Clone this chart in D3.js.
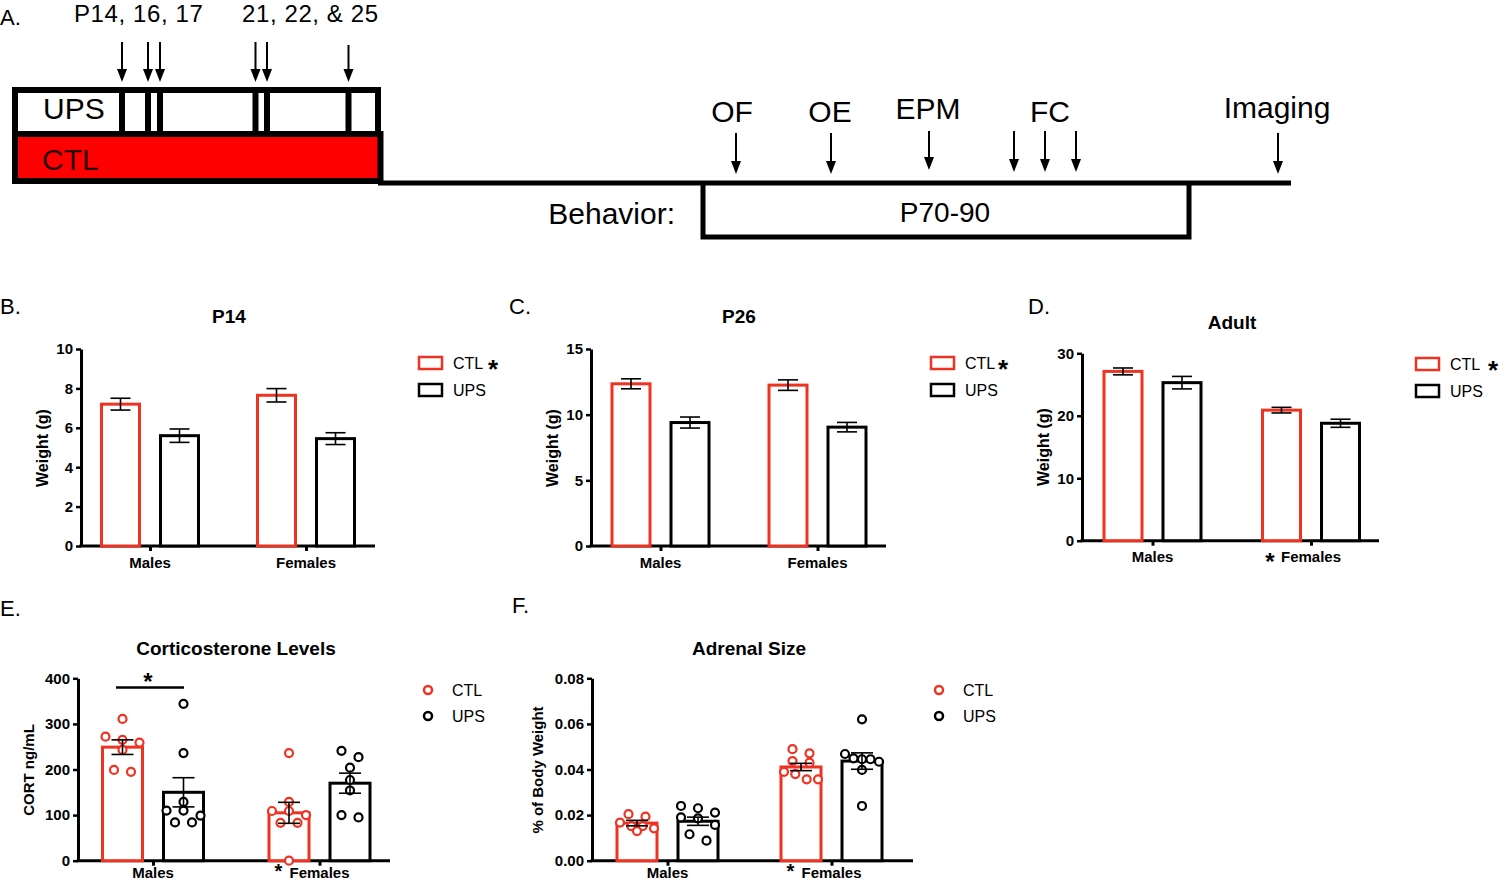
<!DOCTYPE html>
<html><head><meta charset="utf-8">
<script src="https://cdn.jsdelivr.net/npm/d3@7"></script>
<style>
body{margin:0;background:#fff}
svg{display:block}
text{font-family:"Liberation Sans",Arial,Helvetica,sans-serif}
</style>
</head><body>
<svg id="c" width="1500" height="882"></svg>
<script>
// ---------------- DATA ----------------
const groups = ['Males', 'Females'];
const series = ['CTL', 'UPS'];

// Panel A (schematic timeline)
const upsArrowDays = [14, 16, 17, 21, 22, 25];
const upsDayLabels = ['P14, 16, 17', '21, 22, & 25'];
const behaviorTests = ['OF', 'OE', 'EPM', 'FC', 'Imaging'];
const fcSessions = 3;
const behaviorWindow = 'P70-90';

// Panel B: P14 weight (g)
const p14CtlMean = [7.2, 7.65];
const p14CtlSem  = [0.30, 0.34];
const p14UpsMean = [5.6, 5.45];
const p14UpsSem  = [0.34, 0.30];

// Panel C: P26 weight (g)
const p26CtlMean = [12.35, 12.25];
const p26CtlSem  = [0.38, 0.40];
const p26UpsMean = [9.4, 9.05];
const p26UpsSem  = [0.42, 0.36];

// Panel D: Adult weight (g)
const adultCtlMean = [27.1, 20.9];
const adultCtlSem  = [0.55, 0.45];
const adultUpsMean = [25.3, 18.8];
const adultUpsSem  = [1.0, 0.65];

// Panel E: Corticosterone (ng/mL)
const cortCtlMean = [249, 105];
const cortCtlSem  = [16, 23];
const cortUpsMean = [150, 170];
const cortUpsSem  = [32, 22];
const cortCtlMales   = [311, 272, 265, 259, 243, 199, 195];
const cortUpsMales   = [344, 236, 129, 110, 110, 99, 84, 84];
const cortCtlFemales = [236, 129, 109, 109, 100, 83, 83, 0];
const cortUpsFemales = [241, 227, 204, 177, 154, 100, 95];
const cortSigLevel = 380;

// Panel F: Adrenal size (% of body weight)
const adrCtlMean = [0.0165, 0.0411];
const adrCtlSem  = [0.0012, 0.0016];
const adrUpsMean = [0.0173, 0.0437];
const adrUpsSem  = [0.0018, 0.0036];
const adrCtlMales   = [0.0204, 0.0193, 0.0167, 0.0152, 0.0152, 0.0142, 0.0130];
const adrUpsMales   = [0.0240, 0.0230, 0.0211, 0.0190, 0.0186, 0.0157, 0.0116, 0.0088];
const adrCtlFemales = [0.0489, 0.0471, 0.0437, 0.0430, 0.0390, 0.0380, 0.0357, 0.0357];
const adrUpsFemales = [0.0620, 0.0468, 0.0449, 0.0445, 0.0445, 0.0434, 0.0398, 0.0240];

// ---------------- STYLE ----------------
const RED = '#ee3322';
const BOXRED = '#ff0000';
const svg = d3.select('#c');

// ---------------- PANEL A ----------------
const dayX = d3.scaleLinear().domain(upsArrowDays).range([122, 148, 160, 255.5, 267, 348.5]);
const testX = d3.scaleOrdinal().domain(behaviorTests).range([736, 831, 929, 1047, 1278]);
const fcSpread = d3.scalePoint().domain(d3.range(fcSessions)).range([-33, 29]);

function arrow(x, y1, y2) {
  svg.append('line').attr('x1', x).attr('x2', x).attr('y1', y1).attr('y2', y2 - 8)
    .attr('stroke', '#000').attr('stroke-width', 2);
  svg.append('path').attr('d', `M${x - 5},${y2 - 13}L${x + 5},${y2 - 13}L${x},${y2}Z`).attr('fill', '#000');
}

svg.append('text').attr('x', 0).attr('y', 25).attr('font-size', 22).text('A.');
svg.append('text').attr('x', 74).attr('y', 22).attr('font-size', 24).attr('letter-spacing', 0.6).text(upsDayLabels[0]);
svg.append('text').attr('x', 242).attr('y', 22).attr('font-size', 24).attr('letter-spacing', 0.6).text(upsDayLabels[1]);
upsArrowDays.forEach(d => arrow(dayX(d), d === 25 ? 45 : 42, 82));

// UPS box
svg.append('rect').attr('x', 15).attr('y', 90).attr('width', 363).attr('height', 44)
  .attr('fill', '#fff').attr('stroke', '#000').attr('stroke-width', 6);
upsArrowDays.forEach(d => svg.append('rect').attr('x', dayX(d) - 3).attr('y', 90).attr('width', 6).attr('height', 44).attr('fill', '#000'));
// timeline
svg.append('line').attr('x1', 378).attr('x2', 1291).attr('y1', 183).attr('y2', 183).attr('stroke', '#000').attr('stroke-width', 5);
// CTL box
svg.append('rect').attr('x', 15).attr('y', 134).attr('width', 365.5).attr('height', 47)
  .attr('fill', BOXRED).attr('stroke', '#000').attr('stroke-width', 6);
svg.append('text').attr('x', 43).attr('y', 119).attr('font-size', 30).text('UPS');
svg.append('text').attr('x', 42).attr('y', 170).attr('font-size', 30).attr('fill', '#2a0000').text('CTL');

// Behavior box
svg.append('path').attr('d', 'M703,183V237H1189V183').attr('fill', 'none').attr('stroke', '#000').attr('stroke-width', 5);
svg.append('text').attr('x', 675).attr('y', 224).attr('text-anchor', 'end').attr('font-size', 30).text('Behavior:');
svg.append('text').attr('x', 945).attr('y', 222).attr('text-anchor', 'middle').attr('font-size', 28).text(behaviorWindow);

const labelBase = {OF: 122, OE: 122, EPM: 119, FC: 122, Imaging: 118};
const labelShift = {OF: -4, OE: -1, EPM: -1, FC: 3, Imaging: -1};
behaviorTests.forEach(t => {
  svg.append('text').attr('x', testX(t) + labelShift[t]).attr('y', labelBase[t])
    .attr('text-anchor', 'middle').attr('font-size', 30).text(t);
  if (t === 'FC') {
    d3.range(fcSessions).forEach(i => arrow(testX(t) + fcSpread(i), 131, 172));
  } else {
    arrow(testX(t), t === 'EPM' ? 131 : 133, t === 'EPM' ? 170 : 174);
  }
});

// ---------------- BAR PANELS ----------------
function swarm(vals, y) {
  const sorted = vals.slice().sort((a, b) => b - a);
  const rows = []; let cur = null;
  sorted.forEach(v => {
    const py = y(v);
    if (!cur || py - cur.start > 8) { cur = {start: py, items: []}; rows.push(cur); }
    cur.items.push(v);
  });
  const layouts = {1: [0], 2: [-8.5, 8.5], 3: [-17, 0, 17], 4: [-17, -5.7, 5.7, 17], 5: [-17, -8.5, 0, 8.5, 17]};
  const out = [];
  rows.forEach(r => {
    const n = r.items.length;
    const offs = layouts[n] || d3.range(n).map(i => (i - (n - 1) / 2) * (34 / (n - 1)));
    r.items.forEach((v, i) => out.push({v, dx: offs[i]}));
  });
  return out;
}

function star(g, x, yc, size) {
  g.append('text').attr('x', x).attr('y', yc + size * 0.57).attr('text-anchor', 'middle')
    .attr('font-size', size).attr('font-weight', 'bold').text('*');
}

function barPanel(cfg) {
  const g = svg.append('g');
  const y = d3.scaleLinear().domain([0, cfg.yMax]).range([cfg.yBottom, cfg.yTop]);
  const xg = d3.scalePoint().domain(groups).range(cfg.centers);
  const xs = d3.scalePoint().domain(series).range([-cfg.off, cfg.off]);
  const color = {CTL: RED, UPS: '#000'};

  g.append('text').attr('x', cfg.letterX).attr('y', cfg.letterY).attr('font-size', 22).text(cfg.letter);
  g.append('text').attr('x', cfg.titleX).attr('y', cfg.titleY).attr('text-anchor', 'middle')
    .attr('font-size', 19).attr('font-weight', 'bold').text(cfg.title);

  // y axis
  const ya = g.append('g').attr('transform', `translate(${cfg.x0},0)`)
    .call(d3.axisLeft(y).tickValues(cfg.ticks).tickSize(5).tickSizeOuter(0).tickPadding(3).tickFormat(cfg.fmt));
  ya.select('.domain').attr('stroke', '#000').attr('stroke-width', 3);
  ya.selectAll('.tick line').attr('stroke', '#000').attr('stroke-width', 2.5);
  ya.selectAll('.tick text').attr('font-size', 15).attr('font-weight', 'bold')
    .attr('font-family', '"Liberation Sans",Arial,sans-serif').attr('fill', '#000');

  // x axis
  const xa = g.append('g').attr('transform', `translate(0,${cfg.yBottom})`)
    .call(d3.axisBottom(xg).tickSize(5).tickSizeOuter(0).tickFormat(''));
  xa.select('.domain').remove();
  xa.selectAll('.tick line').attr('stroke', '#000').attr('stroke-width', 3);
  g.append('line').attr('x1', cfg.x0 - 1.5).attr('x2', cfg.x1).attr('y1', cfg.yBottom).attr('y2', cfg.yBottom)
    .attr('stroke', '#000').attr('stroke-width', 3);

  groups.forEach(gr => {
    const t = g.append('text').attr('x', xg(gr)).attr('y', cfg.yBottom + cfg.xlabDy).attr('text-anchor', 'middle')
      .attr('font-size', 15).attr('font-weight', 'bold').text(gr);
    if (gr === 'Females' && cfg.femStar) {
      const w = t.node().getComputedTextLength();
      star(g, xg(gr) - w / 2 - 11, cfg.yBottom + cfg.xlabDy - cfg.starLift, cfg.starSize);
    }
  });

  // y label
  g.append('text').attr('transform', `translate(${cfg.ylabX},${cfg.ylabY}) rotate(-90)`)
    .attr('text-anchor', 'middle').attr('dy', '0.35em').attr('font-size', cfg.ylabSize).attr('font-weight', 'bold').text(cfg.ylab);

  // bars
  const bars = [];
  series.forEach(s => groups.forEach((gr, i) => {
    bars.push({s, gr, mean: cfg.data[s].mean[i], sem: cfg.data[s].sem[i], pts: cfg.data[s].pts ? cfg.data[s].pts[i] : null});
  }));
  g.selectAll('rect.bar').data(bars).join('rect').attr('class', 'bar')
    .attr('x', d => xg(d.gr) + xs(d.s) - cfg.bw / 2)
    .attr('y', d => y(d.mean))
    .attr('width', cfg.bw)
    .attr('height', d => y(0) - y(d.mean))
    .attr('fill', '#fff').attr('stroke', d => color[d.s]).attr('stroke-width', 3);

  // points
  bars.forEach(b => {
    if (!b.pts) return;
    const cx = xg(b.gr) + xs(b.s);
    g.selectAll(null).data(swarm(b.pts, y)).join('circle')
      .attr('cx', d => cx + d.dx).attr('cy', d => y(d.v)).attr('r', 4)
      .attr('fill', '#fff').attr('stroke', color[b.s]).attr('stroke-width', 2.2);
  });

  // error bars
  bars.forEach(b => {
    const cx = xg(b.gr) + xs(b.s);
    const yt = y(b.mean + b.sem), yb = y(b.mean - b.sem);
    g.append('line').attr('x1', cx).attr('x2', cx).attr('y1', yt).attr('y2', yb).attr('stroke', '#000').attr('stroke-width', 1.6);
    [yt, yb].forEach(yy => g.append('line').attr('x1', cx - cfg.cap).attr('x2', cx + cfg.cap).attr('y1', yy).attr('y2', yy)
      .attr('stroke', '#000').attr('stroke-width', 1.6));
  });

  // significance bar
  if (cfg.sig) {
    const xa1 = xg('Males') + xs('CTL') - 6.5, xa2 = xg('Males') + xs('UPS') + 0.5;
    const ys = y(cortSigLevel);
    g.append('line').attr('x1', xa1).attr('x2', xa2).attr('y1', ys).attr('y2', ys).attr('stroke', '#000').attr('stroke-width', 2.5);
    star(g, (xa1 + xa2) / 2 - 2, ys - 11, 24);
  }

  // legend
  const L = cfg.legend;
  series.forEach((s, i) => {
    if (L.type === 'rect') {
      const yy = L.y + i * 27;
      g.append('rect').attr('x', L.x).attr('y', yy).attr('width', 23).attr('height', 12)
        .attr('fill', '#fff').attr('stroke', color[s]).attr('stroke-width', 2.5);
      g.append('text').attr('x', L.x + 34).attr('y', yy + 12).attr('font-size', 16).text(s);
      if (s === 'CTL') star(g, L.starX, yy + 6, 26);
    } else {
      const yy = L.y + i * 26;
      g.append('circle').attr('cx', L.x).attr('cy', yy).attr('r', 4).attr('fill', '#fff')
        .attr('stroke', color[s]).attr('stroke-width', 2.5);
      g.append('text').attr('x', L.x + 24).attr('y', yy + 6).attr('font-size', 16).text(s);
    }
  });
}

barPanel({
  letter: 'B.', letterX: 0, letterY: 314, title: 'P14', titleX: 229, titleY: 323,
  x0: 81, x1: 375, centers: [150, 306], off: 29.5, bw: 38, cap: 10, xlabDy: 22,
  yBottom: 546, yTop: 349, yMax: 10, ticks: [0, 2, 4, 6, 8, 10], fmt: d3.format('d'),
  ylab: 'Weight (g)', ylabX: 42, ylabY: 448, ylabSize: 16,
  legend: {type: 'rect', x: 419, y: 357, starX: 493}, femStar: false,
  data: {CTL: {mean: p14CtlMean, sem: p14CtlSem}, UPS: {mean: p14UpsMean, sem: p14UpsSem}}
});
barPanel({
  letter: 'C.', letterX: 509, letterY: 314, title: 'P26', titleX: 739, titleY: 323,
  x0: 591, x1: 886, centers: [660.5, 817.5], off: 29.5, bw: 38, cap: 10, xlabDy: 22,
  yBottom: 546, yTop: 349, yMax: 15, ticks: [0, 5, 10, 15], fmt: d3.format('d'),
  ylab: 'Weight (g)', ylabX: 552, ylabY: 448, ylabSize: 16,
  legend: {type: 'rect', x: 931, y: 357, starX: 1003}, femStar: false,
  data: {CTL: {mean: p26CtlMean, sem: p26CtlSem}, UPS: {mean: p26UpsMean, sem: p26UpsSem}}
});
barPanel({
  letter: 'D.', letterX: 1028, letterY: 314, title: 'Adult', titleX: 1232, titleY: 329,
  x0: 1082, x1: 1379, centers: [1152.5, 1311], off: 29.5, bw: 38, cap: 10, xlabDy: 21.5,
  starSize: 24, starLift: 5.5,
  yBottom: 540.7, yTop: 353.3, yMax: 30, ticks: [0, 10, 20, 30], fmt: d3.format('d'),
  ylab: 'Weight (g)', ylabX: 1043, ylabY: 447, ylabSize: 16,
  legend: {type: 'rect', x: 1416, y: 358, starX: 1493}, femStar: true,
  data: {CTL: {mean: adultCtlMean, sem: adultCtlSem}, UPS: {mean: adultUpsMean, sem: adultUpsSem}}
});
barPanel({
  letter: 'E.', letterX: 0, letterY: 616, title: 'Corticosterone Levels', titleX: 236, titleY: 655,
  x0: 78, x1: 390, centers: [153, 319.5], off: 30.5, bw: 40, cap: 11, xlabDy: 17.5,
  starSize: 20, starLift: 11.4,
  yBottom: 860.7, yTop: 678.3, yMax: 400, ticks: [0, 100, 200, 300, 400], fmt: d3.format('d'),
  ylab: 'CORT ng/mL', ylabX: 29, ylabY: 770, ylabSize: 15,
  legend: {type: 'circle', x: 428, y: 690}, femStar: true, sig: true,
  data: {
    CTL: {mean: cortCtlMean, sem: cortCtlSem, pts: [cortCtlMales, cortCtlFemales]},
    UPS: {mean: cortUpsMean, sem: cortUpsSem, pts: [cortUpsMales, cortUpsFemales]}
  }
});
barPanel({
  letter: 'F.', letterX: 512, letterY: 613, title: 'Adrenal Size', titleX: 749, titleY: 655,
  x0: 592, x1: 913, centers: [667.5, 831.5], off: 30.5, bw: 40, cap: 11, xlabDy: 17.5,
  starSize: 20, starLift: 11.4,
  yBottom: 860.7, yTop: 678.3, yMax: 0.08, ticks: [0, 0.02, 0.04, 0.06, 0.08], fmt: d3.format('.2f'),
  ylab: '% of Body Weight', ylabX: 538, ylabY: 770, ylabSize: 15,
  legend: {type: 'circle', x: 939, y: 690}, femStar: true,
  data: {
    CTL: {mean: adrCtlMean, sem: adrCtlSem, pts: [adrCtlMales, adrCtlFemales]},
    UPS: {mean: adrUpsMean, sem: adrUpsSem, pts: [adrUpsMales, adrUpsFemales]}
  }
});
</script>
</body></html>
